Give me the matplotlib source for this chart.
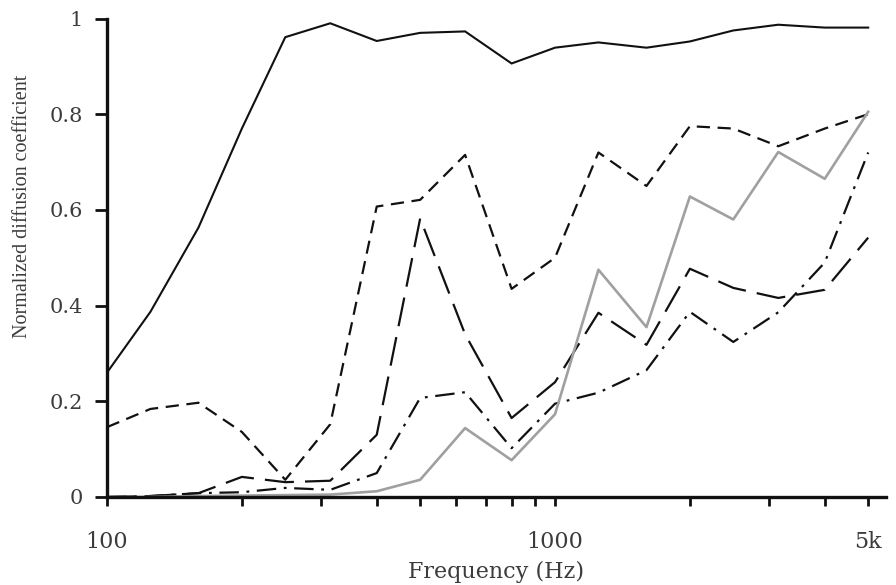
import numpy as np
import matplotlib
matplotlib.use("Agg")
import matplotlib.pyplot as plt

# Third-octave band centre frequencies (Hz)
freqs = [100, 125, 160, 200, 250, 315, 400, 500, 630, 800,
         1000, 1250, 1600, 2000, 2500, 3150, 4000, 5000]

# Normalized diffusion coefficient
solid_black = [0.26, 0.387, 0.563, 0.77, 0.961, 0.99, 0.953, 0.97, 0.973, 0.906,
               0.939, 0.95, 0.939, 0.952, 0.975, 0.987, 0.981, 0.981]
short_dash = [0.146, 0.184, 0.197, 0.136, 0.036, 0.152, 0.607, 0.621, 0.715, 0.435,
              0.5, 0.72, 0.65, 0.775, 0.77, 0.733, 0.77, 0.8]
long_dash = [0.0, 0.002, 0.008, 0.042, 0.031, 0.034, 0.13, 0.582, 0.34, 0.165,
             0.24, 0.385, 0.318, 0.477, 0.437, 0.416, 0.433, 0.542]
dash_dot = [0.0, 0.002, 0.008, 0.01, 0.019, 0.015, 0.05, 0.207, 0.219, 0.102,
            0.195, 0.218, 0.265, 0.387, 0.324, 0.386, 0.49, 0.72]
solid_grey = [0.0, 0.0, 0.002, 0.003, 0.004, 0.005, 0.012, 0.036, 0.144, 0.077,
              0.173, 0.475, 0.355, 0.628, 0.58, 0.721, 0.665, 0.805]

x_ticks = [100, 1000, 5000]
x_tick_labels = ["100", "1000", "5k"]
x_minor = [200, 300, 400, 500, 600, 700, 800, 900, 2000, 3000, 4000]
y_ticks = [0, 0.2, 0.4, 0.6, 0.8, 1]
y_tick_labels = ["0", "0.2", "0.4", "0.6", "0.8", "1"]

plt.rcParams['font.family'] = ['DejaVu Serif']
plt.rcParams['lines.scale_dashes'] = False
text_col = '#3c3c3c'

fig = plt.figure(figsize=(8.96, 5.85), dpi=100)
ax = fig.add_axes([107 / 896, 88 / 585, 779 / 896, 478.5 / 585])

ax.plot(freqs, solid_black, color='#111111', lw=1.5, solid_joinstyle='miter')
ax.plot(freqs, short_dash, color='#111111', lw=1.6, dashes=(9.5, 5.5))
ax.plot(freqs, long_dash, color='#111111', lw=1.6, dashes=(21, 8))
ax.plot(freqs, dash_dot, color='#111111', lw=1.6, dashes=(14, 5.5, 2, 5.5))
ax.plot(freqs, solid_grey, color='#a0a0a0', lw=1.9)

ax.set_xscale('log')
ax.set_xlim(100, 5480)
ax.set_ylim(0, 1)

ax.set_xticks(x_ticks)
ax.set_xticklabels(x_tick_labels)
ax.set_xticks(x_minor, minor=True)
ax.xaxis.set_minor_formatter(matplotlib.ticker.NullFormatter())
ax.set_yticks(y_ticks)
ax.set_yticklabels(y_tick_labels)

for side in ['top', 'right']:
    ax.spines[side].set_visible(False)
for side in ['left', 'bottom']:
    ax.spines[side].set_linewidth(2.4)
    ax.spines[side].set_color('#111111')

ax.tick_params(axis='x', which='both', direction='out', length=6.5, width=2,
               color='#111111', pad=18, labelsize=16, labelcolor=text_col)
ax.tick_params(axis='y', direction='out', length=8.5, width=2,
               color='#111111', pad=9, labelsize=15, labelcolor=text_col)

ax.set_xlabel('Frequency (Hz)', fontsize=16, color=text_col, labelpad=6)
fig.text(23 / 896, 1 - 206 / 585, 'Normalized diffusion coefficient',
         rotation=90, ha='center', va='center', fontsize=14.5, color=text_col,
         family=['Liberation Serif', 'DejaVu Serif'])

fig.savefig('out.png', dpi=100)
